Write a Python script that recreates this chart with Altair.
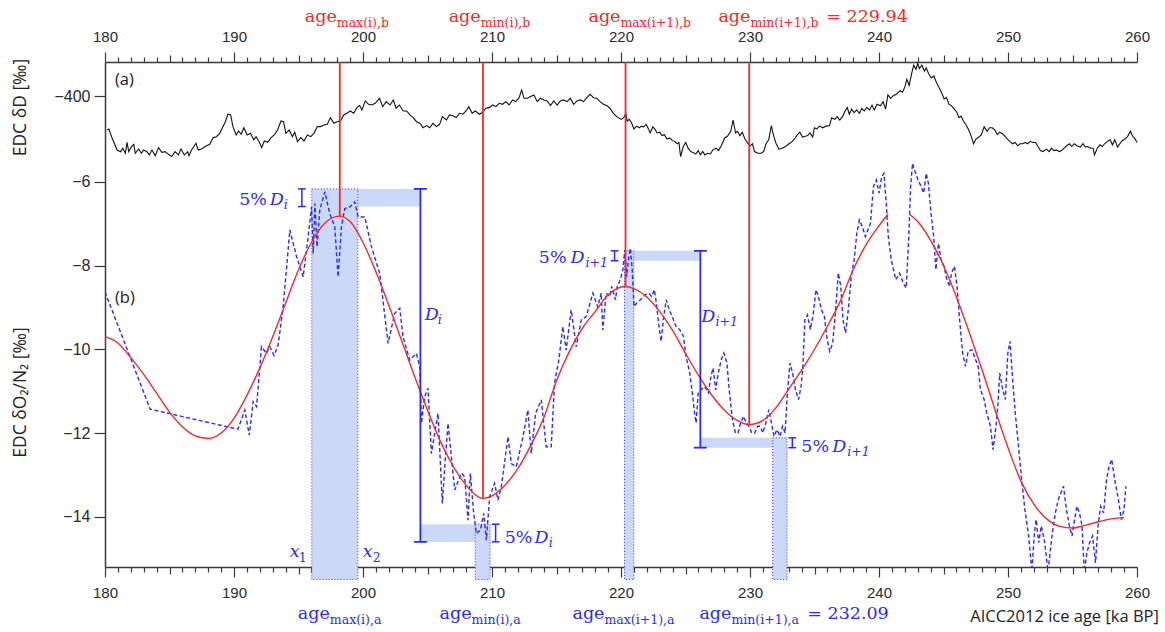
import altair as alt
import pandas as pd

# ---------------- data ----------------
# (a) EDC deltaD [permil]
dD_age = [180.17, 180.30, 180.51, 180.94, 181.20, 181.38, 181.58, 181.71, 181.84, 182.05, 182.23, 182.35, 182.61, 182.82, 182.99,
          183.25, 183.43, 183.64, 183.89, 184.15, 184.41, 184.66, 184.92, 185.17, 185.43, 185.69, 185.89, 186.15, 186.41, 186.51,
          186.71, 187.05, 187.23, 187.48, 187.87, 188.12, 188.38, 188.64, 188.89, 189.15, 189.33, 189.53, 189.74, 189.92, 190.17,
          190.35, 190.56, 190.76, 191.02, 191.28, 191.53, 191.71, 191.97, 192.15, 192.35, 192.61, 192.87, 193.12, 193.38, 193.64,
          193.84, 194.02, 194.28, 194.53, 194.71, 194.92, 195.17, 195.43, 195.69, 195.94, 196.20, 196.46, 196.71, 196.97, 197.23,
          197.48, 197.74, 197.99, 198.25, 198.51, 198.76, 199.02, 199.28, 199.53, 199.74, 199.92, 200.18, 200.43, 200.69, 200.94,
          201.28, 201.53, 201.79, 202.10, 202.35, 202.56, 202.82, 203.12, 203.38, 203.64, 203.89, 204.15, 204.41, 204.66, 204.92,
          205.17, 205.43, 205.69, 205.94, 206.15, 206.46, 206.71, 206.97, 207.23, 207.48, 207.74, 207.99, 208.20, 208.46, 208.71,
          209.02, 209.28, 209.53, 209.79, 210.05, 210.30, 210.56, 210.82, 211.07, 211.33, 211.59, 211.84, 212.10, 212.30, 212.48,
          212.74, 212.99, 213.25, 213.51, 213.76, 214.02, 214.28, 214.53, 214.79, 215.05, 215.30, 215.56, 215.82, 216.07, 216.33,
          216.59, 216.84, 217.10, 217.35, 217.61, 217.87, 218.12, 218.38, 218.64, 218.89, 219.15, 219.41, 219.66,
          220.03, 220.21, 220.37, 220.48, 220.63, 220.82, 221.00, 221.21, 221.42, 221.60, 221.74, 221.95, 222.13, 222.26, 222.47,
          222.65, 222.79, 222.99, 223.18, 223.36, 223.57, 223.78, 223.97, 224.15, 224.36, 224.49, 224.62, 224.83, 225.02, 225.20,
          225.41, 225.62, 225.80, 225.99, 226.15, 226.33, 226.51, 226.72, 226.93, 227.12, 227.38, 227.56, 227.77, 228.04, 228.25,
          228.51, 228.69, 228.88, 229.03, 229.22, 229.40, 229.61, 229.82, 230.01, 230.19, 230.35, 230.61, 230.87, 231.06, 231.24,
          231.45, 231.66, 231.76, 231.92, 232.03, 232.24, 232.50, 232.76, 233.02, 233.29, 233.50, 233.68, 233.86, 234.07, 234.28,
          234.47, 234.65, 234.86, 234.99, 235.18, 235.39, 235.65, 235.91, 236.17, 236.33, 236.57, 236.75, 236.96, 237.17, 237.38,
          237.54, 237.70, 237.88, 238.07, 238.27, 238.48, 238.67, 238.85, 239.06, 239.27, 239.46, 239.64, 239.85, 240.11, 240.32,
          240.51, 240.69, 240.90, 241.11, 241.37, 241.64, 241.82, 242.00, 242.16, 242.34, 242.53, 242.69, 242.87, 243.00, 243.13,
          243.32, 243.53, 243.66, 243.84, 244.05, 244.26, 244.44, 244.63, 244.84, 245.05, 245.23, 245.42, 245.63, 245.84, 246.02,
          246.20, 246.36, 246.54, 246.73, 246.94, 247.15, 247.33, 247.52, 247.73, 247.94, 248.15, 248.38, 248.57, 248.78, 248.99,
          249.17, 249.35, 249.56, 249.77, 249.96, 250.14, 250.35, 250.56, 250.75, 250.93, 251.14, 251.35, 251.53, 251.72, 251.93,
          252.14, 252.32, 252.51, 252.71, 252.98, 253.19, 253.37, 253.55, 253.76, 253.97, 254.16, 254.34, 254.55, 254.76, 254.95,
          255.13, 255.34, 255.60, 255.81, 256.00, 256.18, 256.39, 256.60, 256.70, 256.92, 257.13, 257.31, 257.49, 257.70, 257.91,
          258.10, 258.28, 258.49, 258.70, 258.88, 259.07, 259.28, 259.49, 259.67, 259.86, 260.00]
dD_val = [-428.3, -427.5, -433.9, -445.0, -446.4, -443.6, -447.7, -438.6, -446.4, -442.2, -440.3, -447.7, -444.1, -447.7, -445.0,
          -446.4, -449.1, -445.0, -449.7, -443.0, -446.9, -446.4, -448.6, -450.5, -446.4, -449.1, -444.1, -449.1, -446.4, -449.7,
          -445.0, -439.4, -445.0, -444.1, -441.4, -440.2, -434.7, -433.9, -431.1, -425.5, -421.4, -415.2, -415.8, -425.5, -432.5,
          -429.1, -431.9, -426.4, -432.5, -431.1, -436.6, -433.9, -438.6, -443.0, -437.5, -438.6, -434.7, -432.5, -428.3, -420.8,
          -421.4, -431.1, -428.3, -433.9, -430.2, -438.0, -434.7, -437.5, -432.5, -433.9, -431.1, -425.5, -425.5, -424.1, -423.6,
          -418.0, -422.7, -421.4, -420.8, -415.8, -414.4, -412.5, -414.4, -409.7, -408.0, -411.6, -404.1, -406.9, -407.5, -406.1,
          -401.9, -408.9, -404.7, -407.5, -403.3, -410.2, -407.5, -412.5, -412.5, -415.8, -418.0, -421.4, -422.7, -426.4, -424.7,
          -426.4, -422.7, -425.5, -423.6, -417.2, -420.0, -415.8, -416.4, -418.0, -414.4, -415.2, -412.5, -408.9, -414.4, -412.5,
          -415.2, -413.6, -410.2, -409.7, -407.5, -408.9, -406.1, -406.9, -404.7, -407.5, -403.3, -404.7, -401.4, -395.0, -401.9,
          -401.9, -400.5, -399.1, -404.7, -401.9, -403.3, -404.1, -408.0, -404.1, -407.5, -404.1, -403.3, -404.7, -401.9, -406.9,
          -404.1, -403.3, -404.7, -401.4, -398.6, -401.4, -401.9, -404.7, -406.9, -408.0, -410.2, -414.4, -417.2,
          -419.5, -418.1, -414.4, -420.9, -419.5, -422.3, -427.4, -425.1, -426.5, -425.1, -425.7, -423.7, -427.4, -430.8, -425.7,
          -428.0, -430.8, -430.2, -433.0, -432.2, -435.9, -435.0, -437.0, -437.8, -439.8, -438.7, -450.5, -442.1, -438.7, -443.5,
          -446.3, -447.2, -448.3, -445.5, -449.1, -446.3, -449.1, -447.7, -448.3, -444.9, -443.5, -445.5, -441.5, -435.0, -433.6,
          -429.4, -420.0, -430.8, -429.4, -433.0, -430.2, -435.9, -439.3, -441.5, -439.8, -446.3, -447.7, -447.7, -446.3, -439.8,
          -436.4, -424.6, -430.2, -436.4, -439.8, -444.3, -443.5, -442.1, -439.8, -437.8, -435.0, -432.2, -430.2, -434.2, -433.6,
          -433.0, -430.8, -434.2, -426.5, -427.4, -425.1, -426.5, -425.1, -424.6, -418.1, -419.5, -417.2, -420.0, -417.2, -412.4,
          -409.6, -415.2, -411.0, -413.8, -411.6, -414.4, -410.4, -412.4, -409.6, -411.6, -407.6, -411.6, -406.8, -408.2, -404.8,
          -411.0, -399.1, -402.0, -399.7, -398.3, -395.5, -396.9, -392.6, -386.1, -391.2, -381.3, -374.3, -377.7, -372.9, -377.1,
          -374.3, -379.4, -376.5, -381.3, -385.0, -383.3, -388.4, -392.6, -396.9, -402.5, -401.1, -406.8, -408.2, -411.0, -413.3,
          -418.1, -416.7, -420.9, -423.7, -428.0, -433.6, -439.8, -435.9, -434.2, -432.2, -425.7, -429.4, -426.5, -426.5, -428.5,
          -432.2, -430.2, -431.3, -433.6, -435.9, -437.8, -439.8, -438.7, -441.5, -439.8, -439.8, -438.7, -439.8, -437.8, -438.7,
          -438.7, -442.1, -445.5, -446.3, -444.3, -446.3, -443.5, -445.5, -444.9, -446.3, -445.5, -443.5, -441.5, -439.8, -442.1,
          -439.8, -441.5, -442.6, -439.8, -442.6, -442.1, -443.5, -443.5, -449.1, -443.5, -440.7, -442.1, -439.8, -437.8, -436.4,
          -440.7, -436.4, -442.6, -439.3, -437.0, -435.9, -433.6, -429.4, -433.6, -435.9, -438.7]

# (b) EDC dO2/N2 [permil], blue dashed
o2_age = [180.0, 183.5, 190.3, 190.84, 191.18, 191.49, 191.75, 192.13, 192.52, 192.78, 193.1, 193.42, 193.81, 194.33, 194.85,
          195.36, 195.75, 196.01, 196.14, 196.27, 196.44, 196.65, 197.04, 197.42, 197.81, 198.07, 198.33, 198.59, 198.98, 199.36,
          199.62, 200.14, 200.65, 201.30, 201.94, 202.46, 202.85, 203.10, 203.62, 204.14, 204.40, 204.53, 204.78, 205.04, 205.30,
          205.56, 205.81, 206.15, 206.41, 206.59, 206.85, 207.11, 207.62, 207.88, 208.14, 208.32, 208.58, 208.79, 209.10, 209.36,
          209.56, 209.82, 210.20, 210.46, 210.72, 211.24, 211.50, 211.88, 212.40, 212.78, 213.04, 213.38, 213.82, 214.20, 214.59,
          214.85, 215.18, 215.49, 215.75, 216.14, 216.53, 216.92, 217.30, 217.82, 218.20, 218.46, 218.59, 218.85, 219.14, 219.28,
          219.57, 219.71, 219.94, 220.15, 220.29, 220.45, 220.58, 220.72, 220.87, 221.01, 221.21, 221.50, 221.87, 222.16, 222.36,
          222.59, 222.74, 222.94, 223.11, 223.31, 223.51, 223.74, 223.97, 224.26, 224.55, 224.84, 225.04, 225.33, 225.53, 225.70,
          225.82, 225.99, 226.19, 226.48, 226.77, 226.97, 227.14, 227.34, 227.54, 227.77, 227.98, 228.21, 228.41, 228.64, 228.87,
          229.07, 229.27, 229.50, 229.70, 229.93, 230.13, 230.36, 230.59, 230.79, 230.99, 231.23, 231.46, 231.66, 231.86, 232.09,
          232.32, 232.52, 232.72, 232.90, 233.10, 233.30, 233.53, 233.76, 233.96, 234.10, 234.25, 234.45, 234.68, 234.91, 235.11,
          235.31, 235.54, 235.77, 235.98, 236.18, 236.41, 236.64, 236.84, 237.04, 237.21, 237.41, 237.62, 237.85, 238.08, 238.28,
          238.48, 238.71, 238.94, 239.14, 239.34, 239.57, 239.80, 240.00, 240.21, 240.38, 240.58, 240.72, 240.95, 241.30, 241.59,
          241.88, 242.11, 242.31, 242.45, 242.60, 242.80, 243.03, 243.26, 243.46, 243.66, 243.83, 244.03, 244.24, 244.41, 244.61,
          244.81, 245.04, 245.27, 245.47, 245.62, 245.85, 246.05, 246.25, 246.48, 246.71, 246.91, 247.20, 247.49, 247.69, 247.86,
          248.15, 248.35, 248.64, 248.84, 249.07, 249.21, 249.36, 249.59, 249.79, 249.99, 250.16, 250.36, 250.56, 250.79, 251.03,
          251.31, 251.60, 251.85, 252.05, 252.18, 252.38, 252.58, 252.81, 253.10, 253.44, 253.67, 253.90, 254.10, 254.30, 254.53,
          254.76, 254.96, 255.16, 255.34, 255.54, 255.74, 255.91, 256.12, 256.32, 256.55, 256.78, 256.98, 257.18, 257.41, 257.64,
          257.84, 258.04, 258.27, 258.56, 258.79, 258.99, 259.14]
o2_val = [-8.63, -11.43, -11.91, -11.45, -12.05, -11.25, -11.37, -9.94, -10.10, -9.94, -10.15, -9.90, -8.99, -7.15, -7.79,
          -8.27, -7.31, -6.60, -7.71, -6.52, -7.55, -6.68, -6.24, -6.76, -7.07, -8.27, -7.07, -6.64, -6.60, -6.48,
          -6.84, -6.84, -7.55, -8.19, -9.86, -9.14, -9.02, -9.70, -10.26, -10.10, -10.42, -11.77, -11.13, -10.93, -12.49,
          -12.01, -11.53, -13.68, -12.49, -11.77, -12.57, -13.36, -12.96, -13.04, -14.08, -12.96, -13.92, -14.40, -14.32, -13.92,
          -14.56, -13.52, -13.20, -13.60, -13.28, -12.09, -12.73, -12.81, -12.09, -11.45, -12.49, -11.53, -11.21, -12.33, -12.33,
          -10.80, -10.26, -9.46, -10.02, -9.06, -9.94, -9.30, -9.22, -8.66, -8.99, -8.66, -9.54, -8.66, -8.74, -8.50,
          -8.82, -8.50, -8.34, -8.10, -7.63, -8.27, -7.86, -7.59, -8.10, -8.98, -8.90, -8.82, -8.70, -8.66, -8.74,
          -8.58, -8.90, -9.45, -9.81, -9.22, -8.82, -9.06, -9.22, -9.45, -9.53, -9.69, -10.17, -10.57, -11.04, -11.52,
          -11.76, -11.04, -10.97, -10.89, -11.04, -10.65, -10.45, -10.97, -10.57, -10.25, -10.09, -10.33, -11.04, -11.68, -12.00,
          -12.00, -11.76, -11.60, -11.76, -11.84, -12.00, -12.00, -11.84, -11.84, -12.00, -11.76, -11.44, -11.76, -12.08, -11.92,
          -12.08, -11.84, -12.00, -11.04, -10.33, -10.57, -10.97, -11.20, -10.89, -10.41, -9.30, -9.18, -9.53, -9.14, -8.58,
          -8.74, -9.06, -9.22, -9.77, -10.05, -9.85, -9.06, -8.18, -8.50, -9.30, -9.61, -9.06, -8.26, -7.86, -7.23,
          -6.91, -7.07, -7.31, -7.15, -6.99, -6.11, -5.96, -6.27, -5.88, -5.80, -6.59, -7.31, -7.86, -8.34, -8.18,
          -8.42, -8.54, -7.31, -6.11, -5.56, -5.76, -5.96, -6.11, -6.27, -5.80, -6.04, -6.75, -7.31, -8.10, -7.47,
          -7.86, -8.02, -8.34, -8.50, -8.18, -8.02, -8.50, -9.30, -10.09, -10.41, -10.05, -10.01, -10.25, -10.41, -10.96,
          -11.20, -11.52, -11.84, -12.40, -11.84, -11.36, -10.57, -10.96, -11.20, -10.09, -9.81, -10.73, -11.52, -12.24, -13.03,
          -13.83, -14.46, -15.30, -14.38, -14.07, -14.62, -14.22, -14.54, -15.30, -14.38, -13.91, -13.59, -13.43, -13.27, -13.83,
          -14.22, -14.46, -14.07, -13.75, -13.91, -14.22, -15.30, -14.86, -14.62, -14.46, -15.10, -14.22, -13.75, -13.91, -13.11,
          -12.79, -12.63, -13.11, -13.59, -14.07, -13.83, -13.27]

# (b) smooth fit, red (two pieces, gap between 240.7 and 242.34)
fit_age = [180, 181, 182, 183, 184, 185, 186, 187, 188, 189, 190, 191, 192, 193, 194, 195, 196, 197, 198.2, 199, 200, 201,
           202, 203, 204, 205, 206, 207, 208, 209.3, 210, 211, 212, 213, 214, 215, 216, 217, 218, 219, 220.35, 221, 222, 223,
           224, 225, 226, 227, 228, 229, 229.94, 231, 232, 233, 234, 235, 236, 237, 238, 239, 240, 240.7,
           242.34, 243, 244, 245, 246, 247, 248, 249, 250, 251, 252, 253, 254, 255, 256, 257, 258, 259.0]
fit_val = [-9.70, -9.85, -10.2, -10.6, -11.05, -11.5, -11.85, -12.07, -12.13, -12.0, -11.65, -11.1, -10.45, -9.7, -8.9, -8.1,
           -7.45, -7.0, -6.82, -6.95, -7.45, -8.15, -8.95, -9.8, -10.65, -11.45, -12.2, -12.8, -13.25, -13.56, -13.5, -13.25,
           -12.85, -12.3, -11.65, -10.75, -10.05, -9.5, -9.1, -8.7, -8.5, -8.55, -8.75, -9.1, -9.55, -10.1, -10.62, -11.08,
           -11.45, -11.7, -11.8, -11.7, -11.4, -10.95, -10.5, -10.0, -9.45, -8.85, -8.1, -7.5, -7.05, -6.77,
           -6.77, -6.95, -7.4, -8.0, -8.75, -9.6, -10.5, -11.45, -12.35, -13.15, -13.7, -14.05, -14.23, -14.27, -14.2, -14.12,
           -14.05, -14.02]
FIT_GAP = 241.5

# extrema of the fit (b) and of the data (a)
age_b = [198.2, 209.3, 220.35, 229.94]
fit_b = [-6.82, -13.56, -8.5, -11.8]
sub_b = ["max(i),b", "min(i),b", "max(i+1),b", "min(i+1),b"]
sub_a = ["max(i),a", "min(i),a", "max(i+1),a", "min(i+1),a"]
band_lo = [196.03, 208.70, 220.27, 231.76]     # age windows of the data extrema
band_hi = [199.60, 209.85, 220.99, 232.87]
D_age = [204.45, 226.15]                       # where D_i and D_(i+1) are drawn
D_top = [-6.17, -7.65]
D_bot = [-14.60, -12.35]

# ---------------- styling ----------------
BLUE = "#2b2bf2"
RED = "#f22a2a"
FILL = "#cbd8f7"
AX = "#3a3a3a"
X_DOM = [180, 260]
Y_DOM = [-15.2, -3.14]
Y_BELOW = -15.5
W, H = 1032, 505


def xsc():
    return alt.Scale(domain=X_DOM, nice=False, zero=False)


def ysc():
    return alt.Scale(domain=Y_DOM, nice=False, zero=False)


def X(f):
    return alt.X(f, type="quantitative", scale=xsc(), axis=None)


def Y(f):
    return alt.Y(f, type="quantitative", scale=ysc(), axis=None)


def frame(**cols):
    n = min(len(v) for v in cols.values())
    return pd.DataFrame({k: list(v)[:n] for k, v in cols.items()})


tick_cond = {"condition": [{"test": "datum.value % 10 === 0", "value": 10},
                           {"test": "datum.value % 5 === 0", "value": 7}], "value": 5}
common_x_axis = dict(values=list(range(180, 261)), labelExpr="datum.value % 10 === 0 ? datum.label : ''",
                     tickSize=tick_cond, title=None, grid=False, labelFontSize=15, labelFont="Liberation Sans",
                     labelColor="#2a2a2a", labelPadding=8, domainColor=AX, domainWidth=1.5, tickColor=AX,
                     tickWidth=1.2, labelOverlap=False, labelFlush=False)
y_axis_common = dict(orient="left", grid=False, tickSize=11, tickColor=AX, tickWidth=1.2, labelFontSize=16,
                     labelFont="Liberation Sans", labelColor="#2a2a2a", labelPadding=4, titleFont="Open Sans",
                     titleFontSize=17.5, titleFontWeight="normal", titleColor="#222", titleX=-85, titleAngle=-90,
                     titleAlign="center", titleBaseline="middle")

# ---------------- layers ----------------
bands = []
for i, (lo, hi) in enumerate(zip(band_lo, band_hi)):
    Di = i // 2
    d5 = 0.05 * (D_top[Di] - D_bot[Di])
    top = D_top[Di] if i % 2 == 0 else D_bot[Di] + d5
    bands.append(dict(x=lo, x2=hi, y=top, y2=Y_BELOW))
for Di in range(2):
    d5 = 0.05 * (D_top[Di] - D_bot[Di])
    bands.append(dict(x=band_lo[2 * Di], x2=D_age[Di], y=D_top[Di], y2=D_top[Di] - d5))
    bands.append(dict(x=D_age[Di], x2=band_lo[2 * Di + 1], y=D_bot[Di] + d5, y2=D_bot[Di]))
bands_df = pd.DataFrame(bands)
band_layer = alt.Chart(bands_df).mark_rect(color=FILL, clip=False).encode(
    x=X("x"), x2="x2", y=Y("y"), y2="y2")
outline_layer = alt.Chart(bands_df.iloc[:4]).mark_rect(
    filled=False, stroke=BLUE, strokeDash=[1, 2], strokeWidth=1, clip=False).encode(
    x=X("x"), x2="x2", y=Y("y"), y2="y2")

dD_df = frame(age=dD_age, dD=dD_val)
dD_layer = alt.Chart(dD_df).mark_line(color="#111", strokeWidth=1.1).encode(
    x=alt.X("age:Q", scale=xsc(), axis=alt.Axis(orient="top", **common_x_axis)),
    y=alt.Y("dD:Q", scale=alt.Scale(domain=[-450, -400], range=[94, 34], nice=False, zero=False),
            axis=alt.Axis(values=[-400], domain=False, title="EDC δD [‰]", titleY=45, **y_axis_common)))

o2_df = frame(age=o2_age, o2=o2_val)
o2_layer = alt.Chart(o2_df).mark_line(color=BLUE, strokeWidth=1.4, strokeDash=[4, 2.5], clip=True).encode(
    x=alt.X("age:Q", scale=xsc(), axis=alt.Axis(orient="bottom", **common_x_axis)),
    y=alt.Y("o2:Q", scale=ysc(),
            axis=alt.Axis(values=[-14, -12, -10, -8, -6], domain=True, domainColor=AX, domainWidth=1.5,
                          title="EDC δO₂/N₂ [‰]", titleY=330, **y_axis_common)))

fit_df = frame(age=fit_age, v=fit_val)
fit_df["piece"] = (fit_df["age"] > FIT_GAP).astype(int)
fit_layer = alt.Chart(fit_df).mark_line(color=RED, strokeWidth=1.4, interpolate="monotone").encode(
    x=X("age"), y=Y("v"), detail="piece:N")

rule_df = frame(age=age_b, v=fit_b, top=[Y_DOM[1]] * 4)
red_rules = alt.Chart(rule_df).mark_rule(color=RED, strokeWidth=1.8).encode(
    x=X("age"), y=Y("v"), y2="top")

segs = []
for Di in range(2):
    a = D_age[Di]
    segs += [dict(x=a, x2=a, y=D_top[Di], y2=D_bot[Di], w=1.8),
             dict(x=a - 0.5, x2=a + 0.5, y=D_top[Di], y2=D_top[Di], w=1.8),
             dict(x=a - 0.5, x2=a + 0.5, y=D_bot[Di], y2=D_bot[Di], w=1.8)]
ibeam_age = [195.26, 210.28, 219.50, 233.28]
for k, a in enumerate(ibeam_age):
    Di = k // 2
    d5 = 0.05 * (D_top[Di] - D_bot[Di])
    if k % 2 == 0:
        y1, y2 = D_top[Di], D_top[Di] - d5
    else:
        y1, y2 = D_bot[Di] + d5, D_bot[Di]
    segs += [dict(x=a, x2=a, y=y1, y2=y2, w=1.5),
             dict(x=a - 0.3, x2=a + 0.3, y=y1, y2=y1, w=1.5),
             dict(x=a - 0.3, x2=a + 0.3, y=y2, y2=y2, w=1.5)]
seg_df = pd.DataFrame(segs)
blue_rules = alt.Chart(seg_df).mark_rule(color=BLUE).encode(
    x=X("x"), x2="x2", y=Y("y"), y2="y2", strokeWidth=alt.StrokeWidth("w:Q", scale=None))


def texts(rows, size, align, style="normal", font="DejaVu Serif"):
    df = pd.DataFrame(rows, columns=["t", "x", "y", "c"])
    return alt.Chart(df).mark_text(align=align, baseline="alphabetic", fontSize=size, font=font,
                                   fontStyle=style, clip=False).encode(
        x=X("x"), y=Y("y"), text="t:N", color=alt.Color("c:N", scale=None))


top_anchor = [197.97, 209.12, 219.96, 230.03]
bot_anchor = [197.43, 208.42, 218.72, 228.56]
big_right = ([("age", a, -2.19, RED) for a in top_anchor] +
             [("age", a, -16.44, BLUE) for a in bot_anchor] +
             [("5%", 192.55, -6.56, BLUE), ("5%", 215.78, -7.94, BLUE)])
big_left = [("= 229.94", 235.92, -2.19, RED), ("= 232.09", 234.44, -16.44, BLUE),
            ("5%", 210.98, -14.62, BLUE), ("5%", 233.98, -12.45, BLUE)]
small_left = ([(s, a, -2.30, RED) for s, a in zip(sub_b, top_anchor)] +
              [(s, a, -16.56, BLUE) for s, a in zip(sub_a, bot_anchor)] +
              [("1", 195.02, -15.08, BLUE), ("2", 200.75, -15.08, BLUE)])
ital_left = [("D", 192.78, -6.56, BLUE), ("D", 216.09, -7.94, BLUE), ("D", 213.30, -14.62, BLUE),
             ("D", 236.38, -12.45, BLUE), ("D", 204.78, -9.30, BLUE), ("D", 226.23, -9.35, BLUE),
             ("x", 194.33, -14.96, BLUE), ("x", 199.98, -14.96, BLUE)]
ital_small = [("i", 193.86, -6.65, BLUE), ("i+1", 217.25, -8.04, BLUE), ("i", 214.39, -14.72, BLUE),
              ("i+1", 237.54, -12.55, BLUE), ("i", 205.79, -9.40, BLUE), ("i+1", 227.32, -9.45, BLUE)]
sans_left = [("(a)", 180.77, -3.69, "#222"), ("(b)", 180.77, -8.90, "#222")]
sans_right = [("AICC2012 ice age [ka BP]", 261.7, -16.51, "#222")]

text_layers = [
    texts(big_right, 17.5, "right"),
    texts(big_left, 17.5, "left"),
    texts(small_left, 12.5, "left"),
    texts(ital_left, 17.5, "left", "italic"),
    texts(ital_small, 12.5, "left", "italic"),
    texts(sans_left, 16.5, "left", font="Open Sans"),
    texts(sans_right, 16.5, "right", font="Open Sans"),
]

chart = alt.layer(
    band_layer, outline_layer, dD_layer, o2_layer, fit_layer, red_rules, blue_rules, *text_layers
).resolve_scale(x="independent", y="independent").properties(
    width=W, height=H,
    autosize=alt.AutoSizeParams(type="none"),
    padding={"left": 105, "top": 62, "right": 28, "bottom": 65},
).configure_view(stroke=None)

chart.save("out.html", embed_options={"renderer": "svg", "actions": False})
